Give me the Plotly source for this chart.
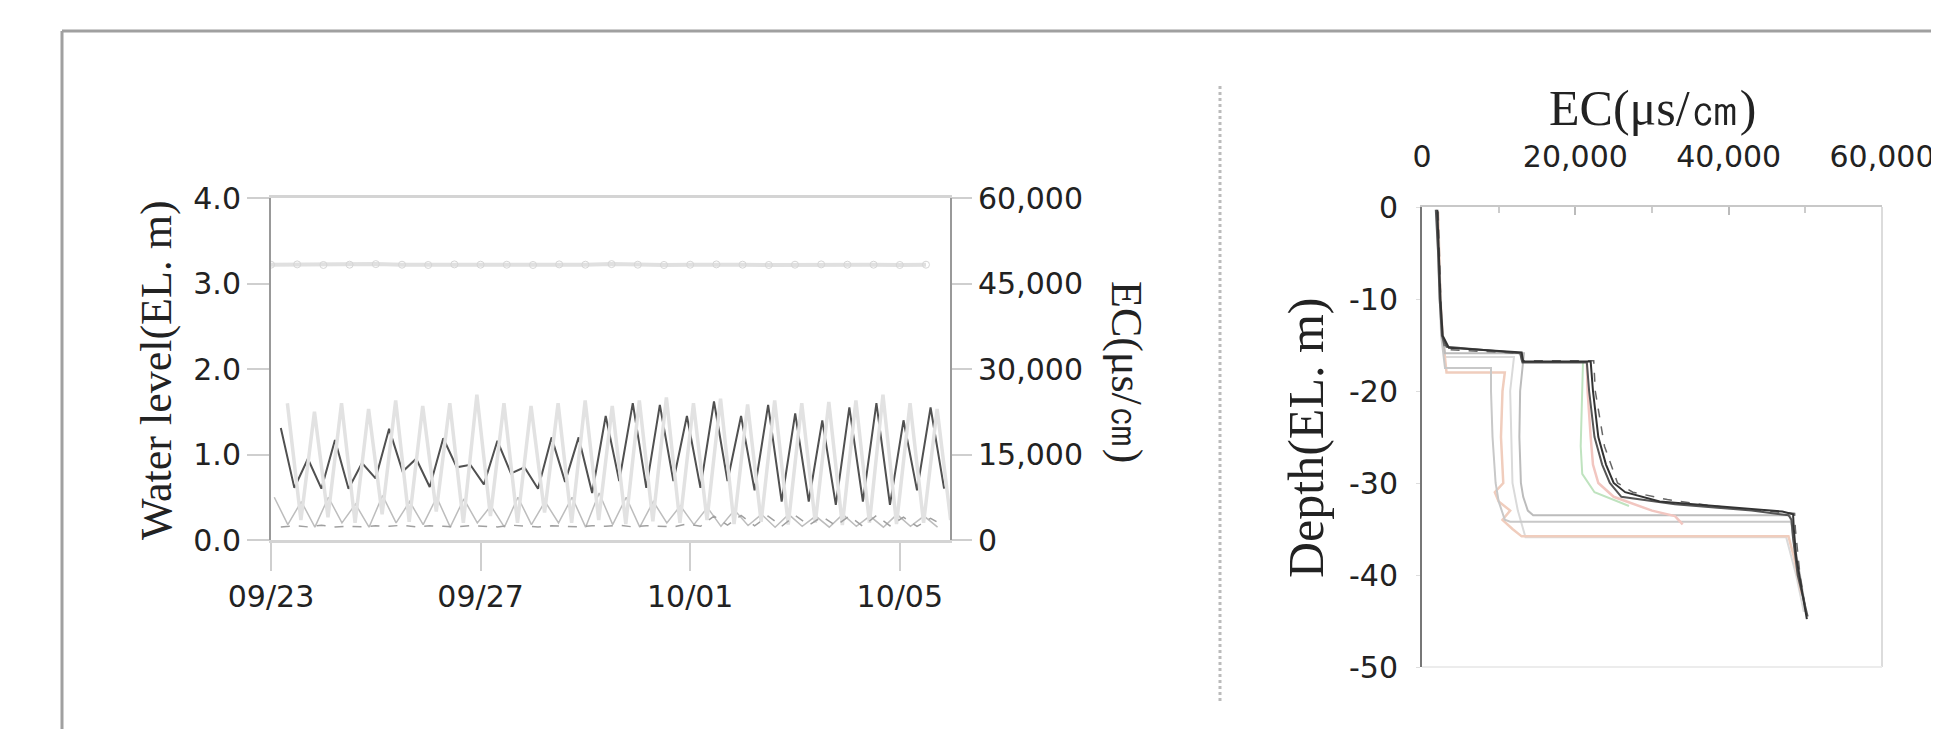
import pandas as pd
import plotly.graph_objects as go

# ---- left chart: water level / EC time series (semidiurnal readings) ----
level_dark = [1.31, 0.61, 0.95, 0.60, 1.17, 0.60, 0.90, 0.72, 1.30, 0.80,
              0.95, 0.62, 1.19, 0.85, 0.88, 0.65, 1.16, 0.78, 0.85, 0.60,
              1.20, 0.68, 1.20, 0.55, 1.45, 0.69, 1.60, 0.61, 1.58, 0.69,
              1.45, 0.61, 1.62, 0.69, 1.45, 0.58, 1.58, 0.45, 1.48, 0.45,
              1.40, 0.41, 1.55, 0.45, 1.60, 0.41, 1.40, 0.58, 1.55, 0.60]
ec_pale = [24000, 3500, 22500, 4000, 24000, 3000, 23000, 4500, 24500, 3200,
           23500, 5000, 24000, 3000, 25500, 4200, 24000, 3000, 23500, 4800,
           24000, 3000, 24500, 3500, 23500, 2800, 24500, 3300, 25000, 3000,
           24000, 3500, 24800, 2800, 23800, 3200, 24500, 2700, 24000, 3000,
           24200, 2600, 24500, 3000, 25500, 2800, 24000, 3000, 23000, 3500]
level_mid = [0.50, 0.18, 0.45, 0.15, 0.50, 0.20, 0.42, 0.15, 0.52, 0.20,
             0.45, 0.18, 0.50, 0.15, 0.48, 0.20, 0.40, 0.15, 0.50, 0.18,
             0.45, 0.20, 0.50, 0.15, 0.55, 0.18, 0.50, 0.15, 0.45, 0.20,
             0.40, 0.18, 0.38, 0.16, 0.35, 0.17, 0.30, 0.15, 0.30, 0.16,
             0.28, 0.15, 0.30, 0.16, 0.28, 0.15, 0.30, 0.16, 0.28, 0.15]
ec_dash = [2300, 2500, 2300, 2600, 2300, 2400, 2300, 2500, 2400, 2600,
           2300, 2500, 2400, 2300, 2500, 2400, 2300, 2600, 2400, 2300,
           2500, 2400, 2300, 2500, 2400, 2600, 2300, 2500, 2400, 2300,
           2800, 2400, 4200, 2600, 4300, 2500, 4200, 2400, 4300, 2600,
           4100, 2500, 4200, 2400, 4300, 2500, 4000, 2400, 3800, 2500]
ec_top = [48300, 48350, 48250, 48300, 48400, 48300, 48250, 48350, 48300, 48300,
          48250, 48350, 48300, 48400, 48300, 48250, 48300, 48350, 48300, 48250,
          48300, 48350, 48300, 48300, 48250, 48300]

t_dark = pd.date_range("2019-09-23 04:30", periods=len(level_dark), freq="372min")
t_pale = pd.date_range("2019-09-23 07:30", periods=len(ec_pale), freq="372min")
t_mid = pd.date_range("2019-09-23 01:30", periods=len(level_mid), freq="372min")
t_dash = pd.date_range("2019-09-23 04:30", periods=len(ec_dash), freq="372min")
t_top = pd.date_range("2019-09-23 00:00", periods=len(ec_top), freq="12h")

date_ticks = ["2019-09-23", "2019-09-27", "2019-10-01", "2019-10-05"]
date_labels = ["09/23", "09/27", "10/01", "10/05"]
level_ticks = [0, 1, 2, 3, 4]
level_labels = ["0.0", "1.0", "2.0", "3.0", "4.0"]
ec_ticks = [0, 15000, 30000, 45000, 60000]
ec_labels = ["0", "15,000", "30,000", "45,000", "60,000"]

# ---- right chart: EC profiles vs depth ----
p1_depth = [-0.3, -5, -10, -14, -15.3, -15.8, -16.8, -16.8, -20, -25, -28, -30, -31, -32, -32.6, -33.1, -33.4, -35, -38, -40, -42, -44.8]
p1_ec = [2000, 2200, 2400, 2700, 3500, 13000, 13200, 22000, 22300, 23000, 24000, 25000, 26500, 31000, 40000, 47000, 48400, 48500, 48800, 49200, 49700, 50200]
p2_depth = [-0.3, -5, -10, -14, -15.2, -15.9, -16.9, -16.9, -20, -25, -28, -30, -31.5, -32.3, -33, -33.5, -34, -36, -40, -43, -44.5]
p2_ec = [1800, 2100, 2300, 2600, 3200, 12800, 13100, 21500, 21800, 22500, 23500, 24500, 26000, 33000, 43000, 47800, 48200, 48400, 49000, 49800, 50300]
p3_depth = [-0.5, -14, -15.5, -15.9, -16.7, -16.7, -20, -26, -30, -31, -31.8, -32.5, -33, -33.3, -35, -40, -44]
p3_ec = [2100, 2600, 3000, 12900, 13000, 22400, 22600, 23800, 25500, 27500, 32000, 38000, 44000, 48600, 48700, 49300, 50100]
p4_depth = [-0.5, -5, -10, -14, -15.9, -15.9, -20, -25, -30, -31.5, -33, -33.5, -33.5, -35, -40, -44]
p4_ec = [2000, 2200, 2400, 2700, 3000, 13300, 12800, 12700, 12900, 13200, 13800, 14500, 48000, 48300, 49200, 50000]
p5_depth = [-0.5, -5, -10, -14, -17.5, -17.5, -20, -25, -30, -32, -34, -34.2, -34.2, -36, -40, -44]
p5_ec = [1900, 2100, 2300, 2500, 3000, 9000, 9000, 9200, 9600, 10000, 10800, 11500, 48200, 48400, 49300, 50100]
p6_depth = [-0.5, -10, -14, -18, -18, -20, -25, -30, -31, -32, -33, -34, -35, -35.8, -35.8, -38, -42]
p6_ec = [2100, 2400, 2700, 3200, 10800, 10500, 10300, 10600, 9500, 10000, 11500, 10500, 11800, 13000, 47800, 48500, 49500]
p7_depth = [-0.5, -14, -16.3, -16.3, -20, -30, -33, -35.9, -35.9, -40, -44]
p7_ec = [2000, 2600, 3000, 12000, 11500, 11800, 12500, 13500, 47500, 48800, 49800]
p8_depth = [-16.8, -20, -25, -28, -30, -31.5, -33, -33.6, -34.5]
p8_ec = [21500, 21600, 22000, 22300, 23000, 25000, 30000, 33000, 34000]
p9_depth = [-16.8, -22, -26, -29, -31, -32.5]
p9_ec = [21000, 20800, 20700, 20900, 22500, 27000]

depth_ticks = [0, -10, -20, -30, -40, -50]
depth_labels = ["0", "-10", "-20", "-30", "-40", "-50"]
ecp_ticks = [0, 20000, 40000, 60000]
ecp_labels = ["0", "20,000", "40,000", "60,000"]

W, H = 1939, 729
tick_font = dict(family="DejaVu Sans", size=30, color="#222")
serif = "Liberation Serif"

fig = go.Figure()

# left chart traces
fig.add_trace(go.Scatter(x=t_top, y=ec_top, yaxis="y2", mode="lines+markers",
                         line=dict(color="#e0e0e0", width=4),
                         marker=dict(symbol="circle-open", size=7, color="#d6d6d6")))
fig.add_trace(go.Scatter(x=t_pale, y=ec_pale, yaxis="y2", mode="lines",
                         line=dict(color="#e2e2e2", width=3.5)))
fig.add_trace(go.Scatter(x=t_mid, y=level_mid, mode="lines",
                         line=dict(color="#bdbdbd", width=1.5)))
fig.add_trace(go.Scatter(x=t_dash, y=ec_dash, yaxis="y2", mode="lines",
                         line=dict(color="#a0a0a0", width=1.5, dash="dash")))
fig.add_trace(go.Scatter(x=t_dark, y=level_dark, mode="lines",
                         line=dict(color="#505050", width=2)))

# right chart traces (light first, dark on top)
profiles = [
    (p7_ec, p7_depth, "#dadada", 2, "solid"),
    (p6_ec, p6_depth, "#f0cdbd", 2.5, "solid"),
    (p5_ec, p5_depth, "#c8c8c8", 2, "solid"),
    (p4_ec, p4_depth, "#bcbcbc", 2, "solid"),
    (p8_ec, p8_depth, "#f2c6c0", 2.5, "solid"),
    (p9_ec, p9_depth, "#bfe3bf", 2, "solid"),
    (p3_ec, p3_depth, "#666", 1.5, "dash"),
    (p2_ec, p2_depth, "#555", 2, "solid"),
    (p1_ec, p1_depth, "#333", 2, "solid"),
]
for ec, dep, col, wd, ds in profiles:
    fig.add_trace(go.Scatter(x=ec, y=dep, xaxis="x2", yaxis="y3", mode="lines",
                             line=dict(color=col, width=wd, dash=ds)))

fig.update_layout(
    template="none",
    width=W, height=H, showlegend=False, autosize=False,
    margin=dict(l=0, r=0, t=0, b=0, pad=0, autoexpand=False),
    paper_bgcolor="white", plot_bgcolor="white",
    xaxis=dict(domain=[263 / W, 942 / W], type="date", automargin=False,
               range=["2019-09-23 00:00", "2019-10-05 23:00"],
               tickvals=date_ticks, ticktext=date_labels, tickfont=tick_font,
               ticks="outside", ticklen=28, tickwidth=2, tickcolor="#cfcfcf",
               showline=True, linecolor="#d4d4d4", linewidth=3, mirror=True,
               showgrid=False, zeroline=False),
    yaxis=dict(domain=[1 - 532 / H, 1 - 190 / H], range=[0, 4], automargin=False,
               tickvals=level_ticks, ticktext=level_labels, tickfont=tick_font,
               ticks="outside", ticklen=22, tickwidth=2, tickcolor="#cfcfcf",
               showline=True, linecolor="#999", linewidth=2,
               showgrid=False, zeroline=False),
    yaxis2=dict(overlaying="y", side="right", anchor="x", range=[0, 60000], automargin=False,
                tickvals=ec_ticks, ticktext=ec_labels, tickfont=tick_font,
                ticks="outside", ticklen=20, tickwidth=2, tickcolor="#cfcfcf",
                showline=True, linecolor="#999", linewidth=2,
                showgrid=False, zeroline=False),
    xaxis2=dict(domain=[1414 / W, 1874 / W], anchor="y3", side="top", automargin=False,
                range=[0, 60000], tickvals=ecp_ticks, ticktext=ecp_labels,
                tickfont=tick_font, ticks="inside", ticklen=8, tickwidth=2,
                tickcolor="#bbb", ticklabelstandoff=26,
                minor=dict(ticks="inside", dtick=10000, ticklen=6, tickcolor="#ccc"),
                showline=True, linecolor="#c8c8c8", linewidth=2,
                showgrid=False, zeroline=False),
    yaxis3=dict(domain=[1 - 659 / H, 1 - 199 / H], anchor="x2", range=[-50, 0], automargin=False,
                tickvals=depth_ticks, ticktext=depth_labels, tickfont=tick_font,
                ticks="outside", ticklen=4, tickcolor="#ddd", ticklabelstandoff=12,
                showline=True, linecolor="#777", linewidth=2,
                showgrid=False, zeroline=False),
)

# frame of right chart (right and bottom edges)
fig.add_shape(type="line", xref="paper", yref="paper", x0=1874 / W, x1=1874 / W,
              y0=1 - 659 / H, y1=1 - 199 / H, line=dict(color="#dcdcdc", width=2))
fig.add_shape(type="line", xref="paper", yref="paper", x0=1414 / W, x1=1874 / W,
              y0=1 - 659 / H, y1=1 - 659 / H, line=dict(color="#ececec", width=2))
# dotted separator
fig.add_shape(type="line", xref="paper", yref="paper", x0=1212 / W, x1=1212 / W,
              y0=1 - 693 / H, y1=1 - 77 / H, line=dict(color="#bbb", width=3, dash="dot"))
# outer frame (top and left)
fig.add_shape(type="line", xref="paper", yref="paper", x0=54 / W, x1=1,
              y0=1 - 23 / H, y1=1 - 23 / H, line=dict(color="#a0a0a0", width=3))
fig.add_shape(type="line", xref="paper", yref="paper", x0=54 / W, x1=54 / W,
              y0=0, y1=1 - 23 / H, line=dict(color="#a0a0a0", width=3))

titles = [
    ("Water level(EL. m)", 148, 362, -90, 44),
    ("EC(μs/㎝)", 1119, 364, 90, 44),
    ("EC(μs/㎝)", 1644, 100, 0, 50),
    ("Depth(EL. m)", 1298, 430, -90, 50),
]
for txt, px, py, ang, sz in titles:
    fig.add_annotation(text=txt, xref="paper", yref="paper", x=px / W, y=1 - py / H,
                       xanchor="center", yanchor="middle", showarrow=False, textangle=ang,
                       font=dict(family=serif, size=sz, color="#222"))

fig.write_html("out.html")
